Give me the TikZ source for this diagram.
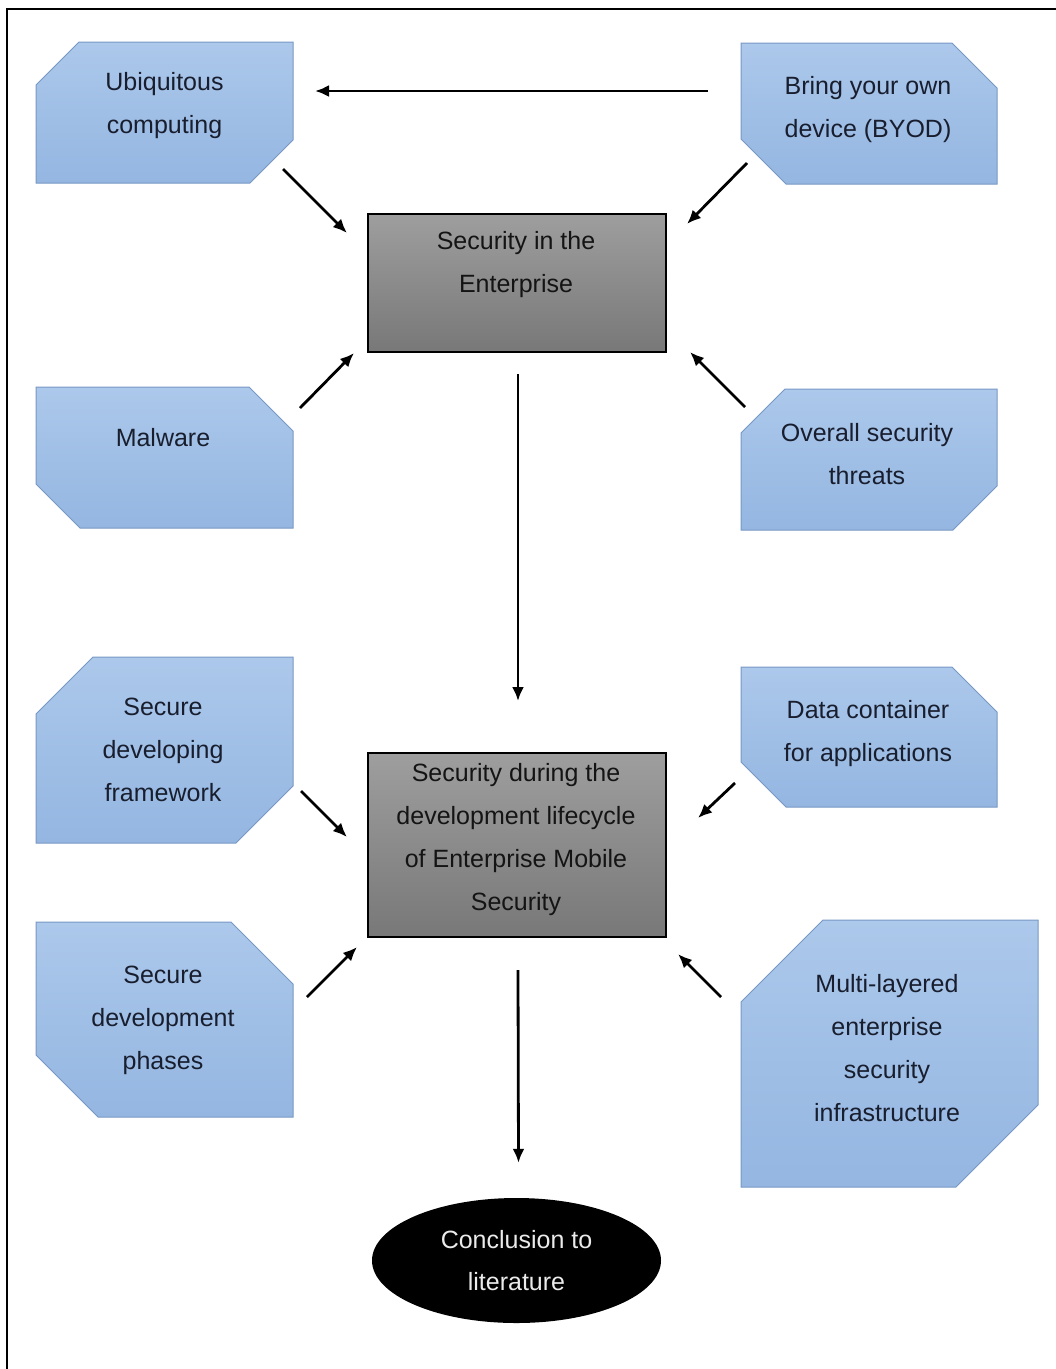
\documentclass[tikz,border=0pt]{standalone}
\usepackage{fontspec}
\setmainfont{Liberation Sans}
\usetikzlibrary{arrows.meta,shapes.geometric}

\definecolor{bluetop}{RGB}{172,200,235}
\definecolor{bluebot}{RGB}{148,182,225}
\definecolor{blueline}{RGB}{120,152,196}
\definecolor{bluetext}{RGB}{24,30,46}
\definecolor{graytop}{RGB}{158,158,158}
\definecolor{graybot}{RGB}{120,120,120}

\tikzset{
  area/.style={rectangle, inner sep=0pt, outer sep=0pt},
  bluebox/.style={top color=bluetop, bottom color=bluebot, draw=blueline, line width=1pt},
  graybox/.style={area, top color=graytop, bottom color=graybot, draw=black, line width=1.8pt},
  bluetxt/.style={align=center, text=bluetext, font=\fontsize{25}{43}\selectfont},
  graytxt/.style={align=center, text=black!92, font=\fontsize{25}{43}\selectfont},
  endnode/.style={ellipse, fill=black, text=white!92!black, align=center,
    inner sep=0pt, minimum width=289pt, minimum height=125pt,
    font=\fontsize{25}{42}\selectfont},
  arr/.style={line width=2.8pt, -{Latex[length=14pt,width=12pt]}}
}

% chamfered outline: corners north west and south east cut
\newcommand\chamferNWSE[2]{%
  \path[bluebox] ([xshift=#2]#1.north west) -- (#1.north east)
    -- ([yshift=#2]#1.south east) -- ([xshift=-#2]#1.south east)
    -- (#1.south west) -- ([yshift=-#2]#1.north west) -- cycle;}
% chamfered outline: corners north east and south west cut
\newcommand\chamferNESW[2]{%
  \path[bluebox] (#1.north west) -- ([xshift=-#2]#1.north east)
    -- ([yshift=-#2]#1.north east) -- (#1.south east)
    -- ([xshift=#2]#1.south west) -- ([yshift=#2]#1.south west) -- cycle;}

\begin{document}
\begin{tikzpicture}[x=1pt,y=-1pt]
\useasboundingbox (0,0) rectangle (1056,1369);
\fill[white] (0,0) rectangle (1056,1369);

% frame
\draw[line width=2pt] (1056,9) -- (7,9) -- (7,1369);

% outer factor boxes
\node[area, minimum width=257pt, minimum height=141pt] (ubi) at (164.5,112.5) {};
\chamferNWSE{ubi}{43pt}
\node[bluetxt] (ubi-t) at (164.5,106) {Ubiquitous\\computing};

\node[area, minimum width=256pt, minimum height=141pt] (byod) at (869,113.5) {};
\chamferNESW{byod}{45pt}
\node[bluetxt] (byod-t) at (868,109.5) {Bring your own\\device (BYOD)};

\node[area, minimum width=257pt, minimum height=141pt] (mal) at (164.5,457.5) {};
\chamferNESW{mal}{44pt}
\node[bluetxt] (mal-t) at (163,438) {Malware};

\node[area, minimum width=256pt, minimum height=141pt] (over) at (869,459.5) {};
\chamferNWSE{over}{44pt}
\node[bluetxt] (over-t) at (867,454.5) {Overall security\\threats};

\node[area, minimum width=257pt, minimum height=186pt] (sdf) at (164.5,750) {};
\chamferNWSE{sdf}{57pt}
\node[bluetxt] (sdf-t) at (163,750) {Secure\\developing\\framework};

\node[area, minimum width=256pt, minimum height=140pt] (data) at (869,737) {};
\chamferNESW{data}{45pt}
\node[bluetxt] (data-t) at (868,734) {Data container\\for applications};

\node[area, minimum width=257pt, minimum height=195pt] (sdp) at (164.5,1019.5) {};
\chamferNESW{sdp}{62pt}
\node[bluetxt] (sdp-t) at (163,1020) {Secure\\development\\phases};

\node[area, minimum width=297pt, minimum height=267pt] (multi) at (889.5,1053.5) {};
\chamferNWSE{multi}{82pt}
\node[bluetxt] (multi-t) at (887,1048) {Multi-layered\\enterprise\\security\\infrastructure};

% central boxes
\node[graybox, minimum width=298pt, minimum height=138pt] (sec1) at (517,283) {};
\node[graytxt] (sec1-t) at (516,265) {Security in the\\Enterprise};

\node[graybox, minimum width=298pt, minimum height=184pt] (sec2) at (517,845) {};
\node[graytxt] (sec2-t) at (516,840) {Security during the\\development lifecycle\\of Enterprise Mobile\\Security};

\node[endnode] (concl) at (516.5,1260.5) {Conclusion to\\literature};

% connectors
\draw[arr] ([shift={(-33,-22.5)}]byod.west) -- ([shift={(22,-21.5)}]ubi.east);
\draw[arr] ([shift={(-10,-14)}]ubi.south east) -- ([shift={(-21,19)}]sec1.north west);
\draw[arr] ([shift={(6,-21)}]byod.south west) -- ([shift={(21,10)}]sec1.north east);
\draw[arr] ([shift={(7,21)}]mal.north east) -- ([shift={(-14,1)}]sec1.south west);
\draw[arr] ([shift={(4,18)}]over.north west) -- ([shift={(24,0)}]sec1.south east);
\draw[arr] ([shift={(1,22)}]sec1.south) -- ([shift={(1,-52)}]sec2.north);
\draw[arr] ([shift={(8,-52)}]sdf.south east) -- ([shift={(-21,-8)}]sec2.west);
\draw[arr] ([shift={(-6,-24)}]data.south west) -- ([shift={(32,-27)}]sec2.east);
\draw[arr] ([shift={(14,75)}]sdp.north east) -- ([shift={(-11,10)}]sec2.south west);
\draw[arr] ([shift={(-20,77)}]multi.north west) -- ([shift={(12,17)}]sec2.south east);
\draw[arr] ([shift={(1,33)}]sec2.south) -- ([shift={(2,-35)}]concl.north);
\end{tikzpicture}
\end{document}
